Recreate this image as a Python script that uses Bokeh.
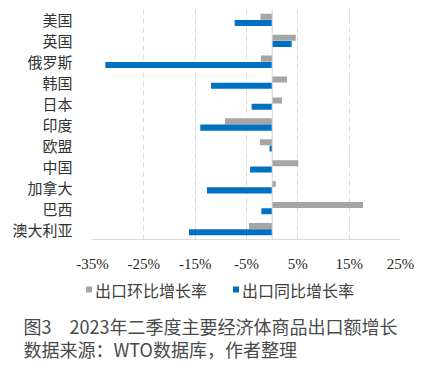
from bokeh.plotting import figure
from bokeh.layouts import column
from bokeh.models import FactorRange, ColumnDataSource, FixedTicker, Span, Range1d
from bokeh.core.properties import value
from bokeh.transform import dodge
from bokeh.embed import file_html
from bokeh.resources import INLINE

countries = ["美国", "英国", "俄罗斯", "韩国", "日本", "印度", "欧盟", "中国", "加拿大", "巴西", "澳大利亚"]
mom_growth = [-2.3, 4.6, -2.2, 2.9, 1.9, -9.2, -2.4, 5.1, 0.7, 17.7, -4.5]
yoy_growth = [-7.3, 3.8, -32.5, -11.9, -4.0, -14.0, -0.5, -4.3, -12.7, -2.1, -16.2]
series_names = ["出口环比增长率", "出口同比增长率"]
series_colors = ["#A5A5A5", "#0070C0"]
x_ticks = [-35, -25, -15, -5, 5, 15, 25]
x_tick_labels = ["-35%", "-25%", "-15%", "-5%", "5%", "15%", "25%"]
captions = ["图3\u30002023年二季度主要经济体商品出口额增长", "数据来源：WTO数据库，作者整理"]

W = 424
src = ColumnDataSource(dict(country=countries, mom=mom_growth, yoy=yoy_growth))

p = figure(width=W, height=274, output_backend="svg", toolbar_location=None,
           y_range=FactorRange(factors=list(reversed(countries))),
           x_range=(x_ticks[0], x_ticks[-1]),
           min_border_left=92, min_border_right=24, min_border_top=9, min_border_bottom=27)
p.outline_line_color = None
p.frame_align = False

r1 = p.hbar(y=dodge("country", 0.15, range=p.y_range), right="mom", left=0, height=0.29,
            source=src, fill_color=series_colors[0], line_color=None)
r2 = p.hbar(y=dodge("country", -0.15, range=p.y_range), right="yoy", left=0, height=0.29,
            source=src, fill_color=series_colors[1], line_color=None)

p.ygrid.grid_line_color = None
p.xgrid.grid_line_color = "#D9D9D9"
p.xgrid.grid_line_dash = "5 4"
p.xaxis.ticker = FixedTicker(ticks=x_ticks)
p.xaxis.major_label_overrides = {t: l for t, l in zip(x_ticks, x_tick_labels)}
p.xaxis.axis_line_color = "#D9D9D9"
p.xaxis.major_tick_line_color = None
p.xaxis.minor_tick_line_color = None
p.xaxis.major_label_text_font = "Liberation Serif"
p.xaxis.major_label_text_font_size = "15px"
p.xaxis.major_label_text_color = "#262626"
p.xaxis.major_label_standoff = 10

p.yaxis.axis_line_color = None
p.yaxis.major_tick_line_color = None
p.yaxis.minor_tick_line_color = None
p.yaxis.major_label_text_font = "Noto Sans CJK SC"
p.yaxis.major_label_text_font_size = "15px"
p.yaxis.major_label_text_color = "#333333"
p.yaxis.major_label_standoff = 14

p.add_layout(Span(location=0, dimension="height", line_color="#D0D0D0", line_width=1))

# bottom panel: legend + captions (coordinates in pixels, y downward)
H2 = 92
q = figure(width=W, height=H2, output_backend="svg", toolbar_location=None,
           x_range=Range1d(0, W), y_range=Range1d(H2, 0),
           x_axis_type=None, y_axis_type=None, min_border=0)
q.outline_line_color = None
q.grid.visible = False
q.frame_align = False

leg_x = [88.5, 235.5]
leg_y = 15
q.scatter(x=leg_x, y=[leg_y] * 2, marker="square", size=6, color=series_colors, line_color=None)
q.text(x=[x + 6 for x in leg_x], y=[leg_y] * 2, text=series_names,
       text_font=value("Noto Sans CJK SC"), text_font_size="16px", text_color="#404040",
       text_baseline="middle", text_align="left")
q.text(x=[23, 23], y=[51, 74], text=captions,
       text_font=value("Noto Sans CJK SC"), text_font_size="18px", text_color="#4a4a4a",
       text_baseline="middle", text_align="left")

open("out.html", "w").write(file_html(column(p, q, spacing=0), INLINE))
